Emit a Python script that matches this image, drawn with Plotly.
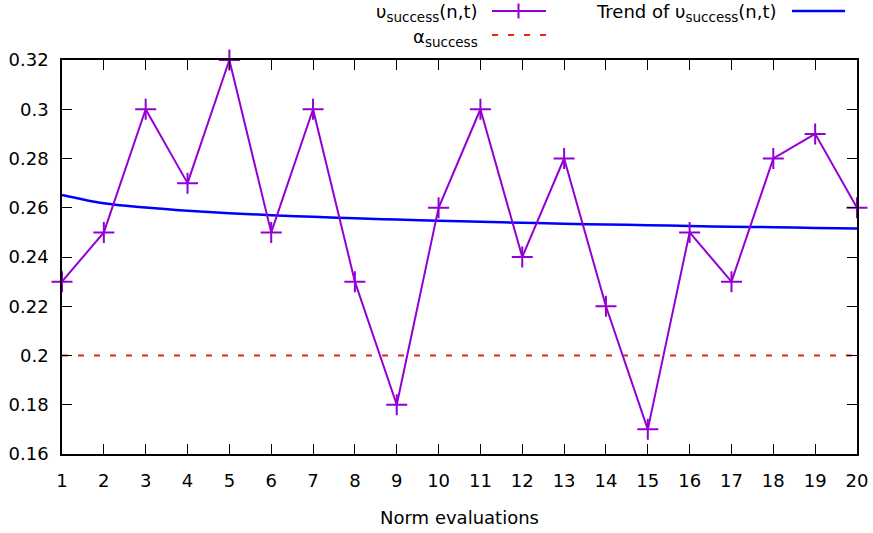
import plotly.graph_objects as go

W, H = 873, 533
ML, MR, MT, MB = 62, 16, 60, 79

evaluations = list(range(1, 21))
u_success = [0.23, 0.25, 0.30, 0.27, 0.32, 0.25, 0.30, 0.23, 0.18, 0.26,
             0.30, 0.24, 0.28, 0.22, 0.17, 0.25, 0.23, 0.28, 0.29, 0.26]
trend = [0.2652, 0.2618, 0.2601, 0.2588, 0.2578, 0.2570, 0.2563, 0.2557,
         0.2552, 0.2547, 0.2543, 0.2539, 0.2535, 0.2532, 0.2529, 0.2526,
         0.2523, 0.2521, 0.2518, 0.2516]
alpha_success = 0.20

y_ticks = [0.16, 0.18, 0.20, 0.22, 0.24, 0.26, 0.28, 0.30, 0.32]
y_ticklabels = ["0.16", "0.18", "0.2", "0.22", "0.24", "0.26", "0.28", "0.3", "0.32"]

PURPLE = "#9400D3"
BLUE = "#0000FF"
RED = "#E8221F"
FONT = "DejaVu Sans"

SUB = '<sub><span style="font-size:13.5px">success</span></sub>'

fig = go.Figure()

fig.add_trace(go.Scatter(
    x=[evaluations[0], evaluations[-1]], y=[alpha_success, alpha_success],
    mode="lines", line=dict(color=RED, width=2, dash="6px,10px"),
    showlegend=False, hoverinfo="skip"))

fig.add_trace(go.Scatter(
    x=evaluations, y=trend, mode="lines",
    line=dict(color=BLUE, width=2.5, shape="spline"),
    showlegend=False))

fig.add_trace(go.Scatter(
    x=evaluations, y=u_success, mode="lines+markers",
    line=dict(color=PURPLE, width=2),
    marker=dict(symbol="cross-thin", size=15, line=dict(color=PURPLE, width=2)),
    cliponaxis=False, showlegend=False))

pw = W - ML - MR
ph = H - MT - MB


def px(xp):
    return (xp - ML) / pw


def py(yp):
    return 1 - (yp - MT) / ph


shapes = []
annotations = []
# legend entries (manual, gnuplot style: right-aligned text, sample on right)
annotations.append(dict(x=px(479), y=py(13), xref="paper", yref="paper",
                        text="υ" + SUB + "(n,t)", showarrow=False,
                        xanchor="right", yanchor="middle",
                        font=dict(family=FONT, size=18, color="black")))
shapes.append(dict(type="line", xref="paper", yref="paper",
                   x0=px(492), x1=px(546), y0=py(11), y1=py(11),
                   line=dict(color=PURPLE, width=2)))
shapes.append(dict(type="line", xref="paper", yref="paper",
                   x0=px(511), x1=px(526), y0=py(11), y1=py(11),
                   line=dict(color=PURPLE, width=2)))
shapes.append(dict(type="line", xref="paper", yref="paper",
                   x0=px(518.5), x1=px(518.5), y0=py(3.5), y1=py(18.5),
                   line=dict(color=PURPLE, width=2)))

annotations.append(dict(x=px(779), y=py(13), xref="paper", yref="paper",
                        text="Trend of υ" + SUB + "(n,t)", showarrow=False,
                        xanchor="right", yanchor="middle",
                        font=dict(family=FONT, size=18, color="black")))
shapes.append(dict(type="line", xref="paper", yref="paper",
                   x0=px(792), x1=px(845), y0=py(11), y1=py(11),
                   line=dict(color=BLUE, width=2.5)))

annotations.append(dict(x=px(480), y=py(38), xref="paper", yref="paper",
                        text="α" + SUB, showarrow=False,
                        xanchor="right", yanchor="middle",
                        font=dict(family=FONT, size=18, color="black")))
shapes.append(dict(type="line", xref="paper", yref="paper",
                   x0=px(492), x1=px(546), y0=py(35), y1=py(35),
                   line=dict(color=RED, width=2, dash="6px,10px")))

fig.update_layout(
    width=W, height=H,
    margin=dict(l=ML, r=MR, t=MT, b=MB, pad=0, autoexpand=False),
    paper_bgcolor="white", plot_bgcolor="white",
    font=dict(family=FONT, size=18, color="black"),
    shapes=shapes, annotations=annotations,
    showlegend=False,
)

fig.update_xaxes(
    range=[1, 20], tickmode="array", tickvals=evaluations,
    ticktext=[str(v) for v in evaluations],
    ticks="inside", ticklen=10, tickwidth=1, tickcolor="black",
    showline=True, linecolor="black", linewidth=1.5, mirror="ticks",
    showgrid=False, zeroline=False, ticklabelstandoff=10, automargin=False,
    title=dict(text="Norm evaluations", standoff=21, font=dict(size=18)),
)
fig.update_yaxes(
    range=[0.16, 0.32], tickmode="array", tickvals=y_ticks, ticktext=y_ticklabels,
    ticks="inside", ticklen=10, tickwidth=1, tickcolor="black",
    showline=True, linecolor="black", linewidth=1.5, mirror="ticks",
    showgrid=False, zeroline=False, ticklabelstandoff=8, automargin=False,
)

fig.write_html("out.html")
